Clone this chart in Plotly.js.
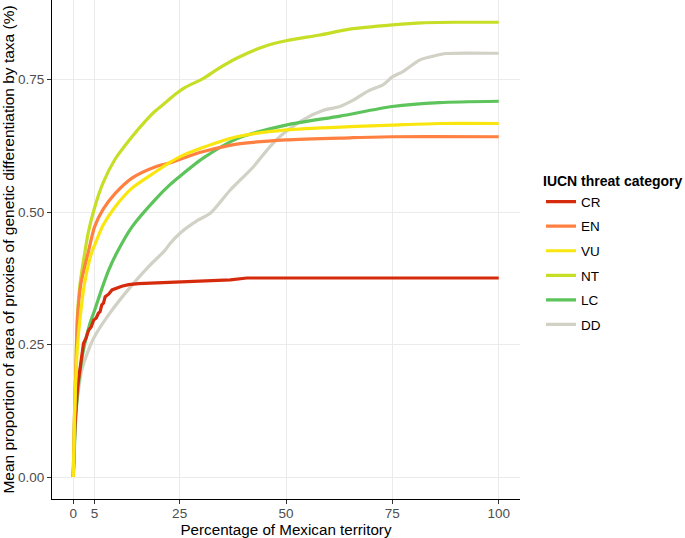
<!DOCTYPE html>
<html>
<head>
<meta charset="utf-8">
<script src="https://cdn.plot.ly/plotly-3.0.1.min.js"></script>
<style>html,body{margin:0;padding:0;background:#fff;}#chart{width:685px;height:538px;}</style>
</head>
<body>
<div id="chart"></div>
<script>
// Categories (legend order) and colours
const categories = ["CR", "EN", "VU", "NT", "LC", "DD"];
const colors = ["#D62A0C", "#FF8040", "#FAE60F", "#C6DE25", "#5CC45A", "#D1D1C5"];

// Percentage of Mexican territory (x) and mean proportion (y) per category
const crX = [0, 0.4, 1.0, 1.8, 2.4, 3.0, 3.6, 4.2, 4.8, 5.4, 5.9, 6.3, 6.7, 7.1, 7.5, 8.3, 9.1, 11.4, 13, 15.3, 21.6, 26.3, 36.9, 40.8, 100];
const crY = [0, 0.10, 0.17, 0.22, 0.252, 0.262, 0.277, 0.283, 0.296, 0.300, 0.309, 0.312, 0.325, 0.328, 0.340, 0.345, 0.353, 0.360, 0.363, 0.365, 0.367, 0.370, 0.372, 0.3755, 0.3755];

const enX = [0, 0.3, 0.6, 1.0, 1.8, 3.4, 5, 7, 9.86, 13.8, 19.2, 22.8, 26.3, 30.6, 38.4, 50, 65, 75, 100];
const enY = [0, 0.12, 0.20, 0.30, 0.365, 0.42, 0.472, 0.505, 0.535, 0.564, 0.585, 0.593, 0.603, 0.614, 0.628, 0.636, 0.640, 0.642, 0.642];

const vuX = [0, 0.3, 0.55, 0.94, 1.64, 2.66, 4.2, 5, 7, 9.86, 13.8, 19.2, 22.8, 25, 30.6, 38.4, 50, 65, 75, 86, 100];
const vuY = [0, 0.114, 0.177, 0.24, 0.3025, 0.365, 0.42, 0.437, 0.475, 0.51, 0.545, 0.575, 0.594, 0.604, 0.622, 0.642, 0.655, 0.661, 0.664, 0.667, 0.667];

const ntX = [0, 0.3, 0.6, 0.94, 1.6, 2.8, 3.5, 5, 7, 9.86, 13.8, 17, 19.2, 21.6, 24, 26.3, 30.6, 34, 38.4, 44.7, 50, 58, 65, 75, 82, 90, 100];
const ntY = [0, 0.12, 0.20, 0.30, 0.365, 0.428, 0.46, 0.508, 0.555, 0.600, 0.642, 0.672, 0.690, 0.706, 0.722, 0.735, 0.752, 0.770, 0.790, 0.812, 0.823, 0.834, 0.845, 0.853, 0.857, 0.858, 0.858];

const lcX = [0, 0.6, 1.25, 2.4, 4.0, 5, 6.7, 8.3, 10.3, 13.8, 19.2, 22.8, 25, 30.6, 38.4, 50, 62.7, 75, 86, 100];
const lcY = [0, 0.114, 0.177, 0.24, 0.292, 0.314, 0.355, 0.39, 0.424, 0.472, 0.523, 0.552, 0.567, 0.602, 0.638, 0.664, 0.681, 0.699, 0.7065, 0.709];

const ddX = [0, 0.3, 0.9, 2.0, 3.6, 5, 8.3, 13.8, 17.7, 21.6, 22.8, 25.1, 29.4, 32.2, 36.9, 42.3, 46.2, 49.4, 54, 58.8, 62.7, 65.8, 69.7, 72.8, 75, 77.5, 81.5, 84.6, 87.7, 100];
const ddY = [0, 0.10, 0.145, 0.202, 0.24, 0.265, 0.306, 0.362, 0.397, 0.428, 0.441, 0.46, 0.485, 0.4975, 0.5415, 0.585, 0.623, 0.648, 0.674, 0.692, 0.699, 0.711, 0.730, 0.740, 0.755, 0.765, 0.787, 0.794, 0.799, 0.7995];

// Axis ticks
const xTicks = [0, 5, 25, 50, 75, 100];
const yTicks = [0, 0.25, 0.5, 0.75];
const yTickLabels = ["0.00", "0.25", "0.50", "0.75"];

const seriesX = {CR: crX, EN: enX, VU: vuX, NT: ntX, LC: lcX, DD: ddX};
const seriesY = {CR: crY, EN: enY, VU: vuY, NT: ntY, LC: lcY, DD: ddY};
const drawOrder = ["DD", "LC", "CR", "NT", "EN", "VU"];

const traces = drawOrder.map(function (c) {
  const i = categories.indexOf(c);
  const jagged = (c === "CR");
  return {
    type: "scatter",
    mode: "lines",
    name: c,
    x: seriesX[c],
    y: seriesY[c],
    line: jagged ? {color: colors[i], width: 3.2, shape: "linear"}
                 : {color: colors[i], width: 3.2, shape: "spline", smoothing: 0.7},
    legendgroup: c,
    legendrank: i + 1,
    hoverinfo: "x+y+name"
  };
});

const font = "Liberation Sans, Arial, Helvetica, sans-serif";

const layout = {
  width: 685,
  height: 538,
  margin: {l: 52, r: 165, t: 0, b: 39, pad: 0},
  paper_bgcolor: "#ffffff",
  plot_bgcolor: "#ffffff",
  font: {family: font, size: 12, color: "#000000"},
  showlegend: true,
  legend: {
    x: 1.045, xanchor: "left",
    y: 0.663, yanchor: "top",
    traceorder: "grouped",
    tracegroupgap: 4,
    font: {family: font, size: 13.5, color: "#000000"},
    title: {text: "<b>IUCN threat category</b>", font: {family: font, size: 14, color: "#000000"}},
    bgcolor: "rgba(0,0,0,0)",
    borderwidth: 0
  },
  xaxis: {
    range: [-5, 105],
    tickmode: "array",
    tickvals: xTicks,
    ticktext: xTicks.map(String),
    showgrid: true,
    gridcolor: "#EBEBEB",
    gridwidth: 1,
    zeroline: false,
    showline: true,
    linecolor: "#000000",
    linewidth: 1,
    ticks: "outside",
    ticklen: 4,
    tickcolor: "#333333",
    tickwidth: 1,
    ticklabelstandoff: -2,
    tickfont: {family: font, size: 13.5, color: "#4D4D4D"},
    title: {text: "Percentage of Mexican territory", font: {family: font, size: 15.2, color: "#000000"}, standoff: 1},
    fixedrange: true
  },
  yaxis: {
    range: [-0.0415, 0.9],
    tickmode: "array",
    tickvals: yTicks,
    ticktext: yTickLabels,
    showgrid: true,
    gridcolor: "#EBEBEB",
    gridwidth: 1,
    zeroline: false,
    showline: true,
    linecolor: "#000000",
    linewidth: 1,
    ticks: "outside",
    ticklen: 4,
    tickcolor: "#333333",
    tickwidth: 1,
    tickfont: {family: font, size: 13.5, color: "#4D4D4D"},
    title: {text: "Mean proportion of area of proxies of genetic differentiation by taxa (%)", font: {family: font, size: 15.5, color: "#000000"}, standoff: 4},
    fixedrange: true
  }
};

Plotly.newPlot("chart", traces, layout, {displayModeBar: false, staticPlot: true});
</script>
</body>
</html>
